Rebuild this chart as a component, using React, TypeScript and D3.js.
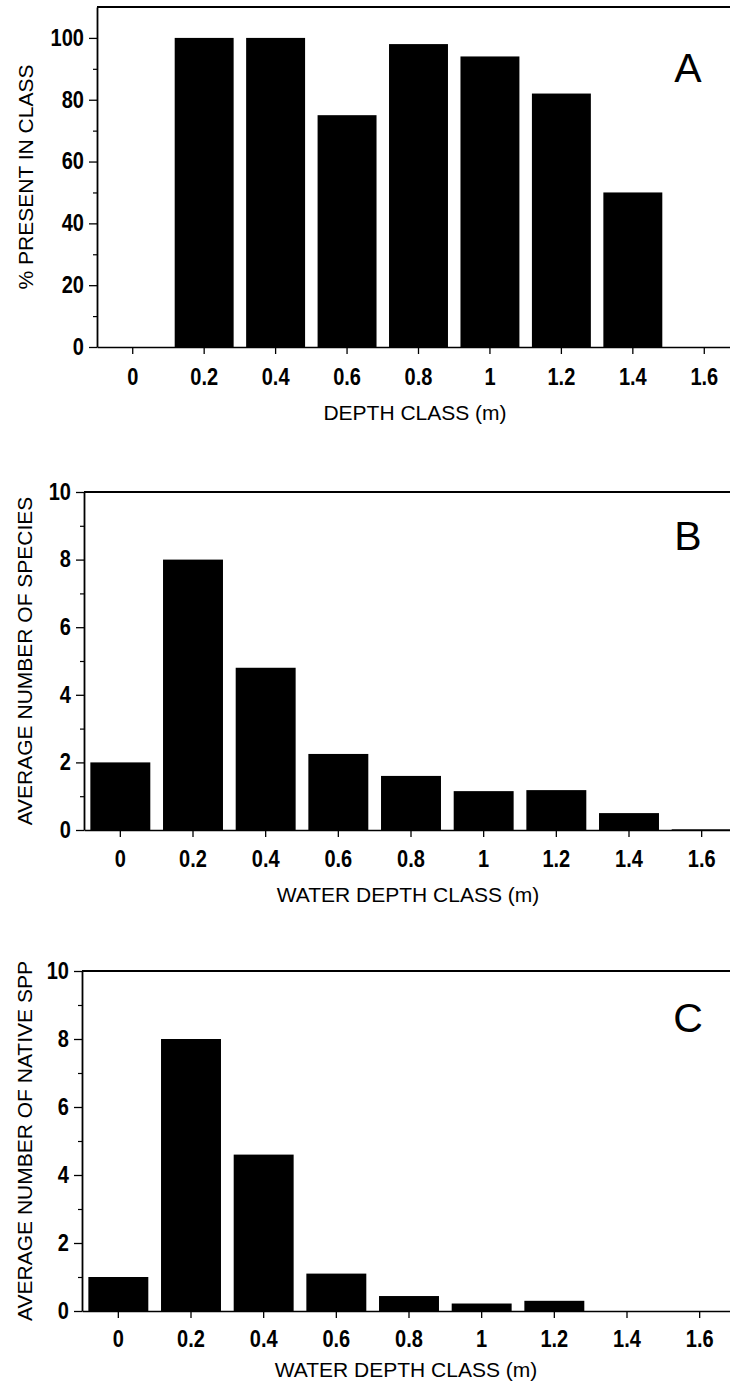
import React, { useEffect, useRef } from 'react';
import * as d3 from 'd3';

// depth classes (m) shared by all three panels
const depthClasses = ['0', '0.2', '0.4', '0.6', '0.8', '1', '1.2', '1.4', '1.6'];

// A: % present in class
const percentPresent = [0, 100, 100, 75, 98, 94, 82, 50, 0];
// B: average number of species
const avgSpecies = [2, 8, 4.8, 2.25, 1.6, 1.15, 1.18, 0.5, 0.02];
// C: average number of native spp
const avgNativeSpp = [1, 8, 4.6, 1.1, 0.44, 0.22, 0.3, 0, 0];

const yTicksA = [0, 20, 40, 60, 80, 100];
const yMinorA = [10, 30, 50, 70, 90];
const yTicksBC = [0, 2, 4, 6, 8, 10];
const yMinorBC = [1, 3, 5, 7, 9];

const FONT = '"Liberation Sans", Arial, Helvetica, sans-serif';

function drawPanel(svg, opt) {
    const x = d3.scaleBand()
        .domain(depthClasses)
        .range([opt.left, opt.right])
        .paddingInner(0.175)
        .paddingOuter(0.0875);
    const y = d3.scaleLinear()
        .domain([0, opt.yMax])
        .range([opt.bottom, opt.top]);

    const g = svg.append('g');

    // bars
    g.selectAll('rect')
        .data(opt.values)
        .enter()
        .append('rect')
        .attr('x', (d, i) => x(depthClasses[i]))
        .attr('y', d => y(d))
        .attr('width', x.bandwidth())
        .attr('height', d => y(0) - y(d))
        .attr('fill', '#000');

    // top frame line
    g.append('line')
        .attr('x1', opt.left).attr('x2', opt.right + 10)
        .attr('y1', y(opt.yMax)).attr('y2', y(opt.yMax))
        .attr('stroke', '#000').attr('stroke-width', 2);

    // x axis
    const xAxis = d3.axisBottom(x).tickSize(7).tickSizeOuter(0).tickPadding(opt.xPad);
    const gx = g.append('g')
        .attr('transform', 'translate(0,' + opt.bottom + ')')
        .call(xAxis);
    gx.select('.domain').attr('stroke-width', 1.6);
    gx.selectAll('.tick line').attr('stroke-width', 1.3);
    gx.selectAll('text')
        .attr('font-family', FONT).attr('font-size', 23).attr('font-weight', 'bold').attr('fill', '#000')
        .attr('transform', 'scale(0.87,1)');

    // y axis, major
    const yAxis = d3.axisLeft(y).tickValues(opt.ticks).tickSize(8).tickSizeOuter(0).tickPadding(7);
    const gy = g.append('g')
        .attr('transform', 'translate(' + opt.left + ',0)')
        .call(yAxis);
    gy.select('.domain').attr('stroke-width', 1.8);
    gy.selectAll('.tick line').attr('stroke-width', 1.3);
    gy.selectAll('text')
        .attr('font-family', FONT).attr('font-size', 23).attr('font-weight', 'bold').attr('fill', '#000')
        .attr('transform', 'scale(0.87,1)');

    // y axis, minor
    const yMinor = d3.axisLeft(y).tickValues(opt.minor).tickSize(4).tickFormat(() => '');
    const gm = g.append('g')
        .attr('transform', 'translate(' + opt.left + ',0)')
        .call(yMinor);
    gm.select('.domain').remove();
    gm.selectAll('.tick line').attr('stroke-width', 1.2);

    // axis titles
    g.append('text')
        .attr('x', opt.xTitleX).attr('y', opt.xTitleY)
        .attr('text-anchor', 'middle')
        .attr('font-family', FONT).attr('font-size', 21)
        .text(opt.xTitle);

    const cy = (opt.top + opt.bottom) / 2;
    g.append('text')
        .attr('transform', 'translate(' + opt.yTitleX + ',' + cy + ') rotate(-90)')
        .attr('text-anchor', 'middle')
        .attr('font-family', FONT).attr('font-size', 21)
        .text(opt.yTitle);

    // panel letter
    g.append('text')
        .attr('x', 688).attr('y', opt.letterY)
        .attr('text-anchor', 'middle')
        .attr('font-family', FONT).attr('font-size', 41)
        .text(opt.letter);
}

export default function App() {
    const ref = useRef(null);

    useEffect(() => {
        const svg = d3.select(ref.current);
        svg.selectAll('*').remove();

        drawPanel(svg, {
            values: percentPresent, ticks: yTicksA, minor: yMinorA, yMax: 110,
            left: 97, right: 740, top: 7, bottom: 347, xPad: 15,
            xTitle: 'DEPTH CLASS (m)', xTitleX: 415, xTitleY: 420,
            yTitle: '% PRESENT IN CLASS', yTitleX: 33,
            letter: 'A', letterY: 82
        });
        drawPanel(svg, {
            values: avgSpecies, ticks: yTicksBC, minor: yMinorBC, yMax: 10,
            left: 84, right: 738, top: 492, bottom: 830, xPad: 14,
            xTitle: 'WATER DEPTH CLASS (m)', xTitleX: 408, xTitleY: 902,
            yTitle: 'AVERAGE NUMBER OF SPECIES', yTitleX: 32,
            letter: 'B', letterY: 550
        });
        drawPanel(svg, {
            values: avgNativeSpp, ticks: yTicksBC, minor: yMinorBC, yMax: 10,
            left: 82, right: 736, top: 971, bottom: 1311, xPad: 13,
            xTitle: 'WATER DEPTH CLASS (m)', xTitleX: 406, xTitleY: 1377,
            yTitle: 'AVERAGE NUMBER OF NATIVE SPP', yTitleX: 32,
            letter: 'C', letterY: 1032
        });
    }, []);

    return (
        <svg
            ref={ref}
            width={730}
            height={1388}
            style={{ position: 'absolute', left: 0, top: 0, background: '#fff' }}
        />
    );
}
